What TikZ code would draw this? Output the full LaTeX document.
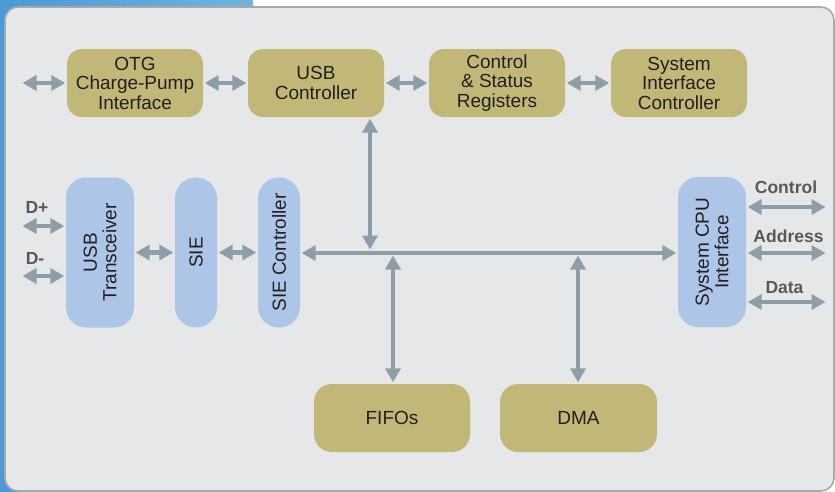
\documentclass[tikz,border=0pt]{standalone}
\usepackage{fontspec}
\setmainfont{Liberation Sans}
\usetikzlibrary{arrows.meta,positioning}
\definecolor{panel}{HTML}{E6E7E8}
\definecolor{panelborder}{HTML}{A7A9AC}
\definecolor{khaki}{HTML}{C1B877}
\definecolor{bluebox}{HTML}{ADC5E6}
\definecolor{arrowc}{HTML}{8E9EA8}
\definecolor{txt}{HTML}{231F20}
\definecolor{lbl}{HTML}{58595B}
\definecolor{blueL}{HTML}{4A9AD6}
\definecolor{blueR}{HTML}{72B3DF}
\tikzset{
  boxtext/.style={font=\fontsize{19}{19.5}\selectfont, text=txt, align=center, inner sep=0pt},
  khakibox/.style={boxtext, fill=khaki, rounded corners=15pt, minimum width=136pt, minimum height=68pt},
  bigkhaki/.style={khakibox, minimum width=156pt, rounded corners=18pt},
  bluewide/.style={boxtext, fill=bluebox, rounded corners=20pt, minimum width=68pt, minimum height=150pt},
  bluenarrow/.style={boxtext, fill=bluebox, rounded corners=20.9pt, minimum width=42pt, minimum height=150pt},
  sidelabel/.style={font=\fontsize{17.5}{19}\selectfont\bfseries, text=lbl, inner sep=0pt, anchor=base},
  biarrow/.style={draw=arrowc, line width=4.5pt, {Triangle[width=15pt,length=14pt]}-{Triangle[width=15pt,length=14pt]}, shorten <=1.5pt, shorten >=1.5pt}
}
\begin{document}
\begin{tikzpicture}[x=1pt,y=-1pt]
\useasboundingbox (0,0) rectangle (835,491);
% background
\shade[left color=blueL, right color=blueR] (0,0) rectangle (253,491);
\fill[white] (253,0) rectangle (835,7);
\draw[fill=panel, draw=panelborder, line width=1.6pt, rounded corners=13pt] (5,7) rectangle (834,491);

% top row
\node[khakibox] (otg) at (135,83) {OTG\\Charge-Pump\\Interface};
\node[khakibox] (usbc) at (316,83) {USB\\Controller};
\node[khakibox] (csr) at (497,83) {Control\\\& Status\\Registers};
\node[khakibox] (sic) at (679,83) {System\\Interface\\Controller};

% middle row
\node[bluewide] (xcvr) at (100,252.5) {};
\node[boxtext, rotate=90] (xcvrt) at (xcvr.center) {USB\\Transceiver};
\node[bluenarrow] (sie) at (196,252.5) {};
\node[boxtext, rotate=90] (siet) at (sie.center) {SIE};
\node[bluenarrow] (siec) at (279,252.5) {};
\node[boxtext, rotate=90] (siect) at (siec.center) {SIE Controller};
\node[bluewide] (cpu) at (712,252) {};
\node[boxtext, rotate=90] (cput) at (cpu.center) {System CPU\\Interface};

% bottom row
\node[bigkhaki] (fifo) at (392,418) {FIFOs};
\node[bigkhaki, minimum width=157pt] (dma) at (578.5,418) {DMA};

% free ends
\coordinate (otgL) at (21,83);
\coordinate (dp) at (21,226);
\coordinate (dm) at (21,276);
\coordinate (ctlR) at (827,207);
\coordinate (addR) at (827,253);
\coordinate (datR) at (827,302);
\coordinate (busA) at (370,251);
\coordinate (busF) at (393,255.5);
\coordinate (busD) at (578,255.5);

% top row arrows
\draw[biarrow] (otgL) -- (otg.west);
\draw[biarrow] (otg.east) -- (usbc.west);
\draw[biarrow] (usbc.east) -- (csr.west);
\draw[biarrow] (csr.east) -- (sic.west);

% middle arrows
\draw[biarrow] (dp) -- (dp -| xcvr.west);
\draw[biarrow] (dm) -- (dm -| xcvr.west);
\draw[biarrow] (xcvr.east) -- (sie.west);
\draw[biarrow] (sie.east) -- (siec.west);
\draw[biarrow] (siec.east |- 0,253) -- (cpu.west |- 0,253);
\draw[biarrow] (busA |- usbc.south) -- (busA);
\draw[biarrow, shorten <=0pt] (busF) -- (busF |- fifo.north);
\draw[biarrow, shorten <=0pt] (busD) -- (busD |- dma.north);
\draw[biarrow] (ctlR -| cpu.east) -- (ctlR);
\draw[biarrow] (addR -| cpu.east) -- (addR);
\draw[biarrow] (datR -| cpu.east) -- (datR);

% labels
\node[sidelabel] (lDp) at (37,213) {D+};
\node[sidelabel] (lDm) at (35,264) {D-};
\node[sidelabel] (lCtl) at (786,193) {Control};
\node[sidelabel] (lAdd) at (788.5,242) {Address};
\node[sidelabel] (lDat) at (784.5,293) {Data};
\end{tikzpicture}
\end{document}
